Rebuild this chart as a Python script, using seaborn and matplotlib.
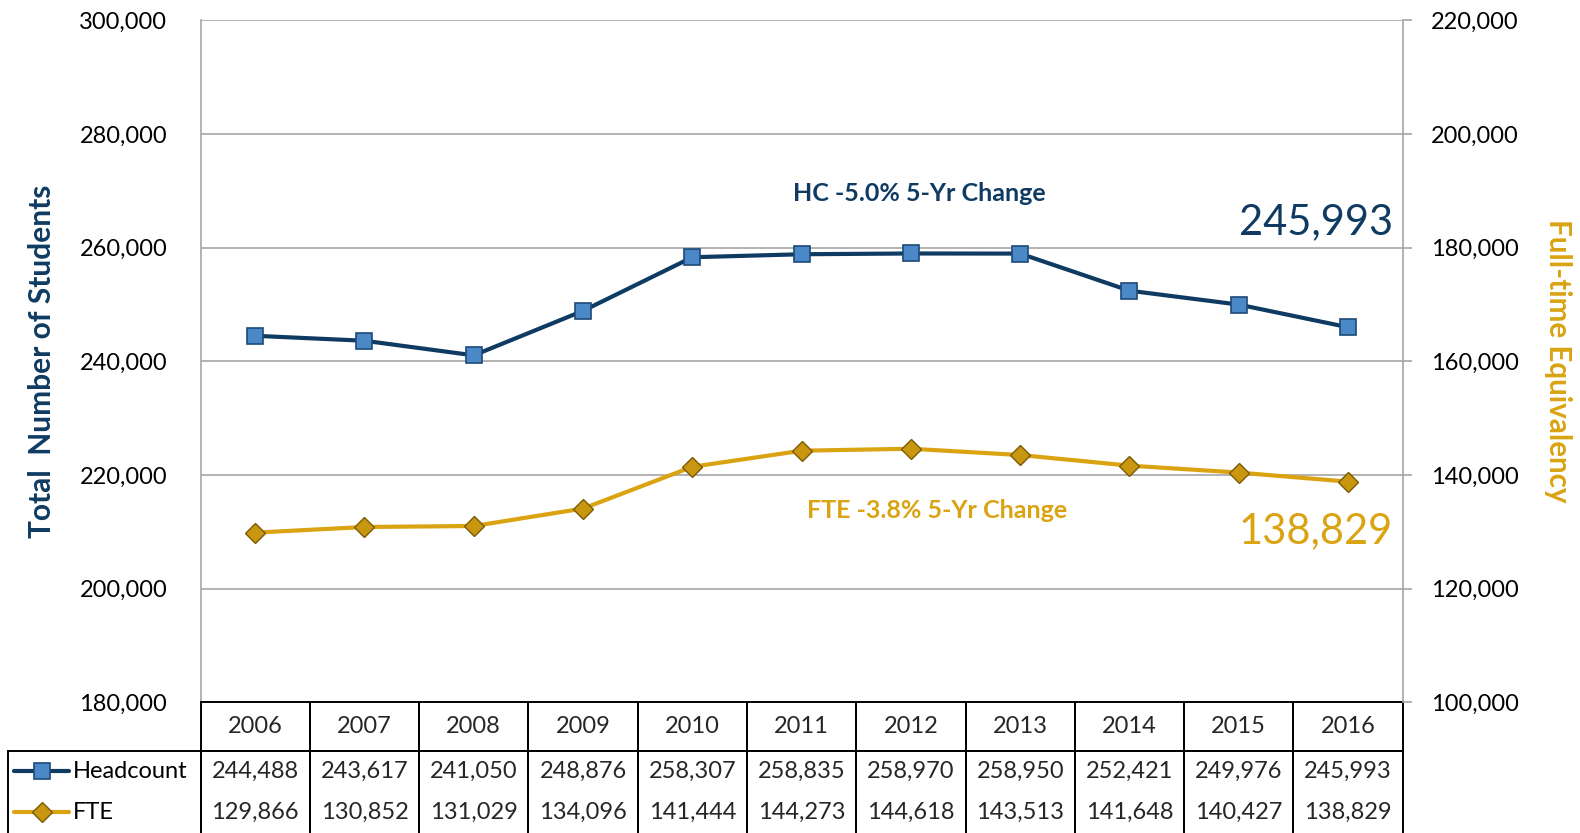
import numpy as np
import pandas as pd
import matplotlib
matplotlib.use("Agg")
import matplotlib.pyplot as plt
import seaborn as sns
from matplotlib.lines import Line2D
from matplotlib.table import Table
from matplotlib.ticker import FuncFormatter, MultipleLocator

# --- data ---
years = ["2006", "2007", "2008", "2009", "2010", "2011", "2012", "2013", "2014", "2015", "2016"]
headcount = [244488, 243617, 241050, 248876, 258307, 258835, 258970, 258950, 252421, 249976, 245993]
fte = [129866, 130852, 131029, 134096, 141444, 144273, 144618, 143513, 141648, 140427, 138829]
row_names = ["Headcount", "FTE"]
hc_note = "HC -5.0% 5-Yr Change"
fte_note = "FTE -3.8% 5-Yr Change"

NAVY = "#0F3B62"
GOLD = "#DAA312"
GRID = "#A6A6A6"

sns.set_theme(style="white")
plt.rcParams["font.family"] = ["Lato", "DejaVu Sans"]

df = pd.DataFrame({"pos": np.arange(len(years)), "Year": years,
                   "Headcount": headcount, "FTE": fte})

fig = plt.figure(figsize=(15.8, 8.33), dpi=100)
ax = fig.add_axes([0.1269, 0.1568, 0.7609, 0.8189])
ax2 = ax.twinx()

hc_style = dict(marker="s", markersize=12, markerfacecolor="#4A88C8",
                markeredgecolor="#1D4A78", markeredgewidth=1.2)
fte_style = dict(marker="D", markersize=10.5, markerfacecolor="#C9970F",
                 markeredgecolor="#7A5A05", markeredgewidth=1.0)

sns.lineplot(data=df, x="pos", y="Headcount", ax=ax, color=NAVY, linewidth=3, **hc_style)
sns.lineplot(data=df, x="pos", y="FTE", ax=ax2, color=GOLD, linewidth=3, **fte_style)

ax.set_xlim(-0.5, len(years) - 0.5)
ax.set_ylim(180000, 300000)
ax2.set_ylim(100000, 220000)
for a in (ax, ax2):
    a.yaxis.set_major_locator(MultipleLocator(20000))
    a.yaxis.set_major_formatter(FuncFormatter(lambda v, p: f"{int(v):,}"))
    a.set_xlabel("")
    a.set_ylabel("")
ax.set_xticks([])
ax.grid(axis="y", color=GRID, linewidth=1.2)
ax2.grid(False)

ax.tick_params(axis="y", labelsize=17, length=0, pad=24, labelcolor="black")
ax2.tick_params(axis="y", labelsize=17, length=6.5, width=1.2, color=GRID, pad=14,
                labelcolor="black", right=True)

for s in ("top", "bottom", "right"):
    ax.spines[s].set_visible(False)
ax.spines["left"].set_color(GRID)
ax.spines["left"].set_linewidth(1.2)
for s in ("top", "bottom", "left"):
    ax2.spines[s].set_visible(False)
ax2.spines["right"].set_color(GRID)
ax2.spines["right"].set_linewidth(1.2)

# --- annotations ---
ax.text(6.08, 269500, hc_note, color=NAVY, fontsize=18, fontweight="bold",
        ha="center", va="center")
ax.text(6.24, 213700, fte_note, color=GOLD, fontsize=18, fontweight="bold",
        ha="center", va="center")
ax.text(10.41, 264500, f"{headcount[-1]:,}", color=NAVY, fontsize=30,
        ha="right", va="center")
ax.text(10.41, 210100, f"{fte[-1]:,}", color=GOLD, fontsize=30,
        ha="right", va="center")

fig.text(42 / 1580, 1 - 361 / 833, "Total  Number of Students", rotation=90,
         color=NAVY, fontsize=21.5, fontweight="bold", ha="center", va="center")
fig.text(1558 / 1580, 1 - 361 / 833, "Full-time Equivalency", rotation=270,
         color=GOLD, fontsize=21.3, fontweight="bold", ha="center", va="center")

# --- data table under the plot ---
ax_w_px = 0.7609 * 1580
ax_h_px = 0.8189 * 833
label_w = 192.5 / ax_w_px
col_w = 1.0 / len(years)
row_h = [49, 40, 42]
tab_h = sum(row_h) / ax_h_px

# bbox covers the year columns; the label column hangs out to the left
tbl = Table(ax, bbox=[0, -tab_h, 1, tab_h])
tbl.auto_set_font_size(False)
for c, yr in enumerate(years):
    tbl.add_cell(0, c, width=col_w, height=row_h[0], text=yr, loc="center")
for r, vals in enumerate([headcount, fte], start=1):
    tbl.add_cell(r, -1, width=label_w, height=row_h[r], text="", loc="left")
    for c, v in enumerate(vals):
        tbl.add_cell(r, c, width=col_w, height=row_h[r], text=f"{v:,}", loc="center")
tbl.set_fontsize(17)
tbl.set_zorder(3)
for (r, c), cell in tbl.get_celld().items():
    cell.set_edgecolor("black")
    cell.set_linewidth(1.4)
    cell.set_facecolor("none")
    if r == 0:
        cell.visible_edges = "closed"
    elif r == 1:
        cell.visible_edges = "TLR"
    else:
        cell.visible_edges = "LR"
ax.add_table(tbl)

# row labels with legend keys
row_y = [-(49 + 20) / ax_h_px, -(49 + 40 + 21) / ax_h_px]
key_x0 = (14 - 200.5) / ax_w_px
key_x1 = (69 - 200.5) / ax_w_px
for name, y, col, style in zip(row_names, row_y, [NAVY, GOLD], [hc_style, fte_style]):
    key = Line2D([key_x0, (key_x0 + key_x1) / 2, key_x1], [y, y, y], color=col,
                 linewidth=3, markevery=[1], transform=ax.transAxes,
                 clip_on=False, **style)
    ax.add_line(key)
    ax.text((73 - 200.5) / ax_w_px, y, name, transform=ax.transAxes,
            fontsize=17, ha="left", va="center", color="black", zorder=4)

fig.savefig("out.png", dpi=100)
